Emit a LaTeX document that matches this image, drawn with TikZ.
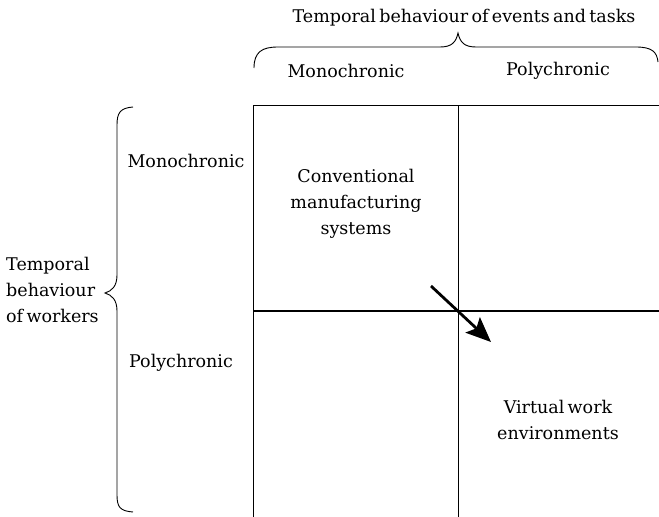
\documentclass[tikz,border=0pt]{standalone}
\usepackage{fontspec}
\setmainfont[WordSpace=0.6]{DejaVu Serif}
\usetikzlibrary{arrows.meta}
\begin{document}
\begin{tikzpicture}[x=1pt,y=-1pt,
  lbl/.style={inner sep=0pt, font=\fontsize{17.5}{26}\selectfont, align=center},
  grid/.style={line width=0.8pt},
  midline/.style={line width=1.8pt},
  bracepath/.style={line width=0.9pt},
  shiftarrow/.style={line width=2.8pt, -{Stealth[length=25pt,width=21pt,inset=5pt]}}]
  \useasboundingbox (0,0) rectangle (659,517);

  % grid of the two-by-two matrix
  \coordinate (tl) at (253,105);
  \coordinate (tr) at (659,105);
  \coordinate (bl) at (253,517);
  \coordinate (tm) at (458,105);
  \coordinate (bm) at (458,517);
  \coordinate (ml) at (253,311);
  \coordinate (mr) at (659,311);
  \draw[grid] (bl) -- (tl) -- (tr);
  \draw[grid] (tm) -- (bm);
  \draw[midline] (ml) -- (mr);

  % braces
  \draw[bracepath] (254,68) .. controls (254,52) and (262,47) .. (278,47) -- (440,47)
    .. controls (452,47) and (456,42) .. (458,33)
    .. controls (460,42) and (464,47) .. (476,47) -- (636,47)
    .. controls (652,47) and (657,52) .. (658,62);
  \draw[bracepath] (133,107) .. controls (120,108) and (117,113) .. (117,125) -- (117,275)
    .. controls (117,286) and (112,291) .. (105,293)
    .. controls (112,295) and (117,300) .. (117,311) -- (117,495)
    .. controls (117,507) and (120,511) .. (133,512);

  % headings
  \node[lbl] (events) at (464,18) {Temporal behaviour of events and tasks};
  \node[lbl] (colmono) at (346,71) {Monochronic};
  \node[lbl] (colpoly) at (558,71) {Polychronic};
  \node[lbl] (rowmono) at (186,161) {Monochronic};
  \node[lbl] (rowpoly) at (181,363) {Polychronic};
  \node[lbl, anchor=west, align=left] (workers) at (6,290) {Temporal\\behaviour\\of workers};

  % cell contents
  \node[lbl] (conv) at (356,204) {Conventional\\manufacturing\\systems};
  \node[lbl] (virt) at (558,420) {Virtual work\\environments};

  % shift from conventional to virtual
  \coordinate (from) at (431,286);
  \coordinate (to) at (491,342);
  \draw[shiftarrow] (from) -- (to);
\end{tikzpicture}
\end{document}
